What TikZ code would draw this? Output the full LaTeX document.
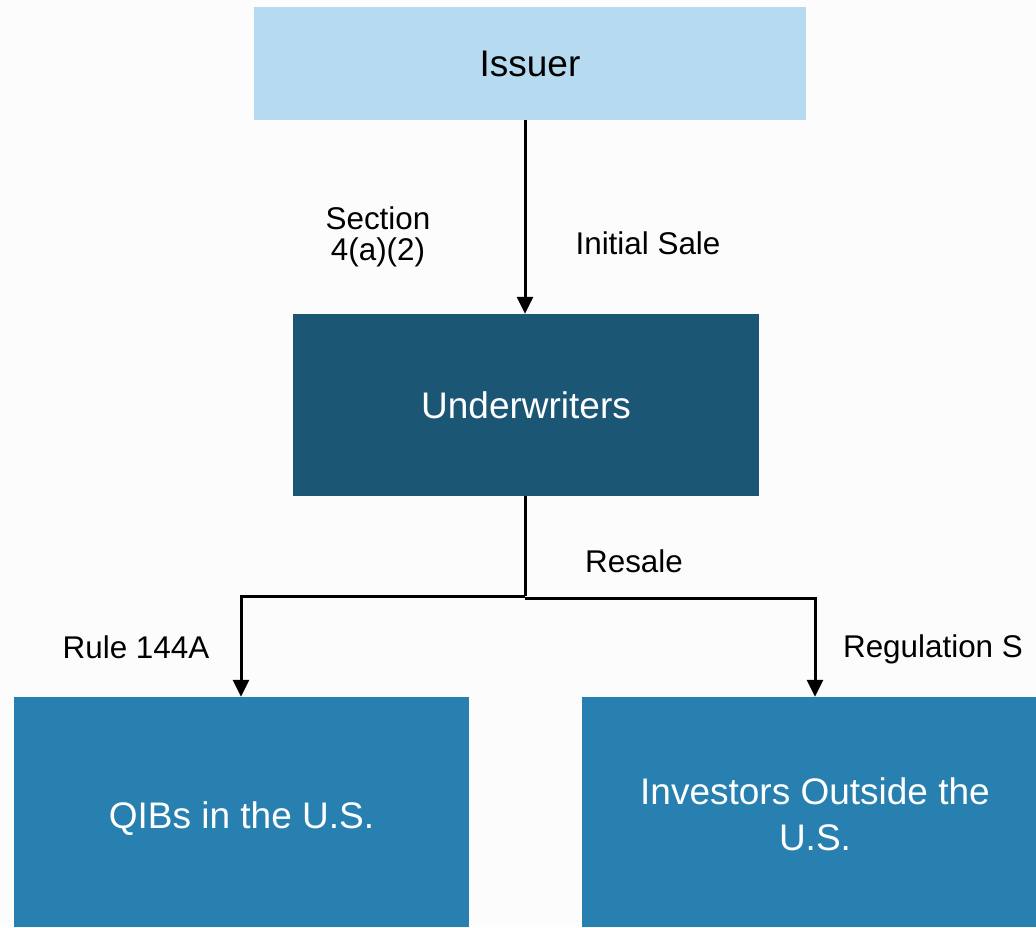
\documentclass[tikz,border=0pt]{standalone}
\usepackage{fontspec}
\setmainfont{Liberation Sans}
\usetikzlibrary{arrows.meta}
\definecolor{bg}{HTML}{FCFCFC}
\definecolor{issuerc}{HTML}{B6DBF0}
\definecolor{underc}{HTML}{1B5675}
\definecolor{bottomc}{HTML}{2780B0}
\begin{document}
\begin{tikzpicture}[x=1pt,y=-1pt,
  box/.style={draw=none,minimum width=#1,inner sep=0pt,align=center},
  bigtext/.style={font=\fontsize{37}{46}\selectfont,align=center,inner sep=0pt},
  lbl/.style={font=\fontsize{31.4}{31}\selectfont,align=center,inner sep=0pt},
  conn/.style={line width=3pt,-{Triangle[width=16pt,length=17pt]}}]
\fill[bg] (0,0) rectangle (1036,927);
\useasboundingbox (0,0) rectangle (1036,927);
\node[box=552pt,minimum height=113pt,fill=issuerc,bigtext,text=black] (issuer) at (530,63.5) {Issuer};
\node[box=466pt,minimum height=182pt,fill=underc,bigtext,text=white] (under) at (526,405) {Underwriters};
\node[box=455pt,minimum height=230pt,fill=bottomc] (qib) at (241.5,812) {};
\node[box=454pt,minimum height=230pt,fill=bottomc] (inv) at (809,812) {};
\node[bigtext,text=white] (qibt) at ([yshift=-6.5pt]qib.center) {QIBs in the U.S.};
\node[bigtext,text=white] (invt) at ([xshift=6pt,yshift=-2.5pt]inv.center) {Investors Outside the\\U.S.};
\coordinate (jl) at (525,596);
\coordinate (jr) at (525,598);
\draw[conn] (issuer.south -| 525,0) -- (under.north -| 525,0);
\draw[line width=3pt] (under.south -| 525,0) -- (jl);
\draw[conn] (jl) -| (qib.north -| 241,0);
\draw[conn] (jr) -| (inv.north -| 815,0);
\node[lbl] (sec) at (378,237) {Section\\4(a)(2)};
\node[lbl] (init) at (648,243) {Initial Sale};
\node[lbl] (resale) at (634,561) {Resale};
\node[lbl] (rule) at (136,647) {Rule 144A};
\node[lbl] (reg) at (933,649) {Regulation S};
\end{tikzpicture}
\end{document}
